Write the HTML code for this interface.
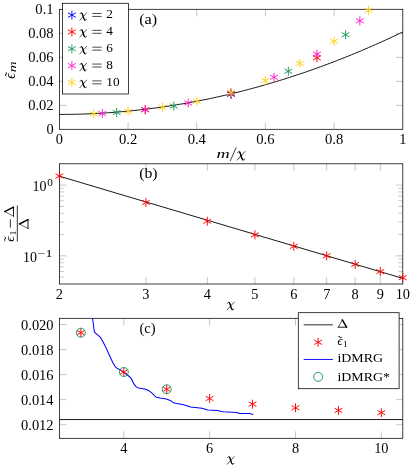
<!DOCTYPE html>
<html><head><meta charset="utf-8"><title>figure</title>
<style>
html,body{margin:0;padding:0;background:#fff;}
svg{display:block;will-change:transform;font-family:"Liberation Serif",serif;fill:#000;}
</style></head><body>
<svg width="415" height="470" viewBox="0 0 415 470">
<rect width="415" height="470" fill="#fff"/>
<line x1="128.08" y1="129.30" x2="128.08" y2="122.30" stroke="#808080" stroke-width="0.45" />
<line x1="128.08" y1="9.30" x2="128.08" y2="16.30" stroke="#808080" stroke-width="0.45" />
<line x1="196.76" y1="129.30" x2="196.76" y2="122.30" stroke="#808080" stroke-width="0.45" />
<line x1="196.76" y1="9.30" x2="196.76" y2="16.30" stroke="#808080" stroke-width="0.45" />
<line x1="265.44" y1="129.30" x2="265.44" y2="122.30" stroke="#808080" stroke-width="0.45" />
<line x1="265.44" y1="9.30" x2="265.44" y2="16.30" stroke="#808080" stroke-width="0.45" />
<line x1="334.12" y1="129.30" x2="334.12" y2="122.30" stroke="#808080" stroke-width="0.45" />
<line x1="334.12" y1="9.30" x2="334.12" y2="16.30" stroke="#808080" stroke-width="0.45" />
<line x1="59.40" y1="105.30" x2="66.40" y2="105.30" stroke="#808080" stroke-width="0.45" />
<line x1="402.80" y1="105.30" x2="395.80" y2="105.30" stroke="#808080" stroke-width="0.45" />
<line x1="59.40" y1="81.30" x2="66.40" y2="81.30" stroke="#808080" stroke-width="0.45" />
<line x1="402.80" y1="81.30" x2="395.80" y2="81.30" stroke="#808080" stroke-width="0.45" />
<line x1="59.40" y1="57.30" x2="66.40" y2="57.30" stroke="#808080" stroke-width="0.45" />
<line x1="402.80" y1="57.30" x2="395.80" y2="57.30" stroke="#808080" stroke-width="0.45" />
<line x1="59.40" y1="33.30" x2="66.40" y2="33.30" stroke="#808080" stroke-width="0.45" />
<line x1="402.80" y1="33.30" x2="395.80" y2="33.30" stroke="#808080" stroke-width="0.45" />
<polyline points="59.40,114.42 62.83,114.41 66.27,114.39 69.70,114.35 73.14,114.29 76.57,114.21 80.00,114.12 83.44,114.02 86.87,113.89 90.31,113.75 93.74,113.60 97.17,113.42 100.61,113.23 104.04,113.03 107.48,112.80 110.91,112.57 114.34,112.31 117.78,112.04 121.21,111.75 124.65,111.44 128.08,111.12 131.51,110.78 134.95,110.43 138.38,110.06 141.82,109.67 145.25,109.27 148.68,108.85 152.12,108.41 155.55,107.96 158.99,107.49 162.42,107.00 165.85,106.50 169.29,105.98 172.72,105.44 176.16,104.89 179.59,104.32 183.02,103.74 186.46,103.13 189.89,102.52 193.33,101.88 196.76,101.23 200.19,100.56 203.63,99.88 207.06,99.18 210.50,98.46 213.93,97.73 217.36,96.98 220.80,96.21 224.23,95.43 227.67,94.63 231.10,93.81 234.53,92.98 237.97,92.13 241.40,91.26 244.84,90.38 248.27,89.48 251.70,88.57 255.14,87.64 258.57,86.69 262.01,85.72 265.44,84.74 268.87,83.74 272.31,82.73 275.74,81.70 279.18,80.65 282.61,79.59 286.04,78.51 289.48,77.41 292.91,76.30 296.35,75.17 299.78,74.02 303.21,72.86 306.65,71.68 310.08,70.49 313.52,69.28 316.95,68.05 320.38,66.80 323.82,65.54 327.25,64.26 330.69,62.97 334.12,61.66 337.55,60.33 340.99,58.99 344.42,57.63 347.86,56.25 351.29,54.86 354.72,53.45 358.16,52.02 361.59,50.58 365.03,49.12 368.46,47.64 371.89,46.15 375.33,44.64 378.76,43.12 382.20,41.58 385.63,40.02 389.06,38.44 392.50,36.85 395.93,35.24 399.37,33.62 402.80,31.98" fill="none" stroke="#000" stroke-width="0.9"/>
<rect x="59.4" y="9.3" width="343.40" height="120.00" fill="none" stroke="#000" stroke-width="0.75"/>
<path d="M231.10 98.80L231.10 89.80M227.20 96.55L235.00 92.05M227.20 92.05L235.00 96.55" stroke="#0000ff" stroke-width="0.95" fill="none"/>
<path d="M145.25 114.20L145.25 105.20M141.35 111.95L149.15 107.45M141.35 107.45L149.15 111.95" stroke="#ff0000" stroke-width="0.95" fill="none"/>
<path d="M231.10 98.30L231.10 89.30M227.20 96.05L235.00 91.55M227.20 91.55L235.00 96.05" stroke="#ff0000" stroke-width="0.95" fill="none"/>
<path d="M316.95 62.30L316.95 53.30M313.05 60.05L320.85 55.55M313.05 55.55L320.85 60.05" stroke="#ff0000" stroke-width="0.95" fill="none"/>
<path d="M116.63 117.00L116.63 108.00M112.74 114.75L120.53 110.25M112.74 110.25L120.53 114.75" stroke="#1a9a5a" stroke-width="0.95" fill="none"/>
<path d="M173.87 110.60L173.87 101.60M169.97 108.35L177.76 103.85M169.97 103.85L177.76 108.35" stroke="#1a9a5a" stroke-width="0.95" fill="none"/>
<path d="M231.10 97.80L231.10 88.80M227.20 95.55L235.00 91.05M227.20 91.05L235.00 95.55" stroke="#1a9a5a" stroke-width="0.95" fill="none"/>
<path d="M288.33 75.70L288.33 66.70M284.44 73.45L292.23 68.95M284.44 68.95L292.23 73.45" stroke="#1a9a5a" stroke-width="0.95" fill="none"/>
<path d="M345.57 39.20L345.57 30.20M341.67 36.95L349.46 32.45M341.67 32.45L349.46 36.95" stroke="#1a9a5a" stroke-width="0.95" fill="none"/>
<path d="M102.33 118.00L102.33 109.00M98.43 115.75L106.22 111.25M98.43 111.25L106.22 115.75" stroke="#ff1ac8" stroke-width="0.95" fill="none"/>
<path d="M145.25 114.20L145.25 105.20M141.35 111.95L149.15 107.45M141.35 107.45L149.15 111.95" stroke="#ff1ac8" stroke-width="0.95" fill="none"/>
<path d="M188.18 107.50L188.18 98.50M184.28 105.25L192.07 100.75M184.28 100.75L192.07 105.25" stroke="#ff1ac8" stroke-width="0.95" fill="none"/>
<path d="M231.10 97.50L231.10 88.50M227.20 95.25L235.00 90.75M227.20 90.75L235.00 95.25" stroke="#ff1ac8" stroke-width="0.95" fill="none"/>
<path d="M274.03 81.80L274.03 72.80M270.13 79.55L277.92 75.05M270.13 75.05L277.92 79.55" stroke="#ff1ac8" stroke-width="0.95" fill="none"/>
<path d="M316.95 58.60L316.95 49.60M313.05 56.35L320.85 51.85M313.05 51.85L320.85 56.35" stroke="#ff1ac8" stroke-width="0.95" fill="none"/>
<path d="M359.88 25.30L359.88 16.30M355.98 23.05L363.77 18.55M355.98 18.55L363.77 23.05" stroke="#ff1ac8" stroke-width="0.95" fill="none"/>
<path d="M93.74 118.40L93.74 109.40M89.84 116.15L97.64 111.65M89.84 111.65L97.64 116.15" stroke="#ffcf14" stroke-width="0.95" fill="none"/>
<path d="M128.08 115.80L128.08 106.80M124.18 113.55L131.98 109.05M124.18 109.05L131.98 113.55" stroke="#ffcf14" stroke-width="0.95" fill="none"/>
<path d="M162.42 111.80L162.42 102.80M158.52 109.55L166.32 105.05M158.52 105.05L166.32 109.55" stroke="#ffcf14" stroke-width="0.95" fill="none"/>
<path d="M196.76 105.80L196.76 96.80M192.86 103.55L200.66 99.05M192.86 99.05L200.66 103.55" stroke="#ffcf14" stroke-width="0.95" fill="none"/>
<path d="M231.10 97.15L231.10 88.15M227.20 94.90L235.00 90.40M227.20 90.40L235.00 94.90" stroke="#ffcf14" stroke-width="0.95" fill="none"/>
<path d="M265.44 85.10L265.44 76.10M261.54 82.85L269.34 78.35M261.54 78.35L269.34 82.85" stroke="#ffcf14" stroke-width="0.95" fill="none"/>
<path d="M299.78 67.90L299.78 58.90M295.88 65.65L303.68 61.15M295.88 61.15L303.68 65.65" stroke="#ffcf14" stroke-width="0.95" fill="none"/>
<path d="M334.12 45.80L334.12 36.80M330.22 43.55L338.02 39.05M330.22 39.05L338.02 43.55" stroke="#ffcf14" stroke-width="0.95" fill="none"/>
<path d="M368.46 14.90L368.46 5.90M364.56 12.65L372.36 8.15M364.56 8.15L372.36 12.65" stroke="#ffcf14" stroke-width="0.95" fill="none"/>
<text transform="translate(59.40,143.90) scale(1.029,1)" font-size="13.9" text-anchor="middle" >0</text>
<text transform="translate(128.08,143.90) scale(1.052,1)" font-size="13.9" text-anchor="middle" >0.2</text>
<text transform="translate(196.76,143.90) scale(1.052,1)" font-size="13.9" text-anchor="middle" >0.4</text>
<text transform="translate(265.44,143.90) scale(1.052,1)" font-size="13.9" text-anchor="middle" >0.6</text>
<text transform="translate(334.12,143.90) scale(1.052,1)" font-size="13.9" text-anchor="middle" >0.8</text>
<text transform="translate(402.80,143.90) scale(1.029,1)" font-size="13.9" text-anchor="middle" >1</text>
<text transform="translate(53.60,134.40) scale(1.029,1)" font-size="13.9" text-anchor="end" >0</text>
<text transform="translate(53.60,110.40) scale(1.045,1)" font-size="13.9" text-anchor="end" >0.02</text>
<text transform="translate(53.60,86.40) scale(1.045,1)" font-size="13.9" text-anchor="end" >0.04</text>
<text transform="translate(53.60,62.40) scale(1.045,1)" font-size="13.9" text-anchor="end" >0.06</text>
<text transform="translate(53.60,38.40) scale(1.045,1)" font-size="13.9" text-anchor="end" >0.08</text>
<text transform="translate(53.60,14.40) scale(1.052,1)" font-size="13.9" text-anchor="end" >0.1</text>
<rect x="62.6" y="3.3" width="65.9" height="90.7" fill="#fff" stroke="#000" stroke-width="0.75"/>
<path d="M71.90 19.60L71.90 10.60M68.00 17.35L75.80 12.85M68.00 12.85L75.80 17.35" stroke="#0000ff" stroke-width="0.95" fill="none"/>
<path d="M86.64 12.75 L79.80 20.29" fill="none" stroke="#000" stroke-width="0.67" stroke-linecap="round"/>
<path d="M80.07 13.73 C80.35 12.97 81.17 12.60 81.85 13.12 C82.53 13.73 82.74 15.24 83.22 16.67 C83.70 18.18 84.18 19.69 85.00 20.18 C85.68 20.52 86.30 20.07 86.50 19.39" fill="none" stroke="#000" stroke-width="0.71" stroke-linecap="round"/>
<path d="M81.92 13.20 C82.53 13.80 82.74 15.24 83.22 16.67 C83.63 18.03 84.04 19.39 84.72 19.99" fill="none" stroke="#000" stroke-width="1.23" stroke-linecap="round"/>
<line x1="92.30" y1="13.50" x2="101.60" y2="13.50" stroke="#000" stroke-width="0.7" />
<line x1="92.30" y1="16.45" x2="101.60" y2="16.45" stroke="#000" stroke-width="0.7" />
<text transform="translate(106.30,18.30) scale(1.039,1)" font-size="12.8" text-anchor="start" >2</text>
<path d="M71.90 36.45L71.90 27.45M68.00 34.20L75.80 29.70M68.00 29.70L75.80 34.20" stroke="#ff0000" stroke-width="0.95" fill="none"/>
<path d="M86.64 29.60 L79.80 37.14" fill="none" stroke="#000" stroke-width="0.67" stroke-linecap="round"/>
<path d="M80.07 30.58 C80.35 29.82 81.17 29.45 81.85 29.97 C82.53 30.58 82.74 32.09 83.22 33.52 C83.70 35.03 84.18 36.54 85.00 37.03 C85.68 37.37 86.30 36.92 86.50 36.24" fill="none" stroke="#000" stroke-width="0.71" stroke-linecap="round"/>
<path d="M81.92 30.05 C82.53 30.65 82.74 32.09 83.22 33.52 C83.63 34.88 84.04 36.24 84.72 36.84" fill="none" stroke="#000" stroke-width="1.23" stroke-linecap="round"/>
<line x1="92.30" y1="30.35" x2="101.60" y2="30.35" stroke="#000" stroke-width="0.7" />
<line x1="92.30" y1="33.30" x2="101.60" y2="33.30" stroke="#000" stroke-width="0.7" />
<text transform="translate(106.30,35.15) scale(1.039,1)" font-size="12.8" text-anchor="start" >4</text>
<path d="M71.90 53.30L71.90 44.30M68.00 51.05L75.80 46.55M68.00 46.55L75.80 51.05" stroke="#1a9a5a" stroke-width="0.95" fill="none"/>
<path d="M86.64 46.45 L79.80 53.99" fill="none" stroke="#000" stroke-width="0.67" stroke-linecap="round"/>
<path d="M80.07 47.43 C80.35 46.67 81.17 46.30 81.85 46.82 C82.53 47.43 82.74 48.94 83.22 50.37 C83.70 51.88 84.18 53.39 85.00 53.88 C85.68 54.22 86.30 53.77 86.50 53.09" fill="none" stroke="#000" stroke-width="0.71" stroke-linecap="round"/>
<path d="M81.92 46.90 C82.53 47.50 82.74 48.94 83.22 50.37 C83.63 51.73 84.04 53.09 84.72 53.69" fill="none" stroke="#000" stroke-width="1.23" stroke-linecap="round"/>
<line x1="92.30" y1="47.20" x2="101.60" y2="47.20" stroke="#000" stroke-width="0.7" />
<line x1="92.30" y1="50.15" x2="101.60" y2="50.15" stroke="#000" stroke-width="0.7" />
<text transform="translate(106.30,52.00) scale(1.039,1)" font-size="12.8" text-anchor="start" >6</text>
<path d="M71.90 70.15L71.90 61.15M68.00 67.90L75.80 63.40M68.00 63.40L75.80 67.90" stroke="#ff1ac8" stroke-width="0.95" fill="none"/>
<path d="M86.64 63.30 L79.80 70.84" fill="none" stroke="#000" stroke-width="0.67" stroke-linecap="round"/>
<path d="M80.07 64.28 C80.35 63.52 81.17 63.15 81.85 63.67 C82.53 64.28 82.74 65.79 83.22 67.22 C83.70 68.73 84.18 70.24 85.00 70.73 C85.68 71.07 86.30 70.62 86.50 69.94" fill="none" stroke="#000" stroke-width="0.71" stroke-linecap="round"/>
<path d="M81.92 63.75 C82.53 64.35 82.74 65.79 83.22 67.22 C83.63 68.58 84.04 69.94 84.72 70.54" fill="none" stroke="#000" stroke-width="1.23" stroke-linecap="round"/>
<line x1="92.30" y1="64.05" x2="101.60" y2="64.05" stroke="#000" stroke-width="0.7" />
<line x1="92.30" y1="67.00" x2="101.60" y2="67.00" stroke="#000" stroke-width="0.7" />
<text transform="translate(106.30,68.85) scale(1.039,1)" font-size="12.8" text-anchor="start" >8</text>
<path d="M71.90 87.00L71.90 78.00M68.00 84.75L75.80 80.25M68.00 80.25L75.80 84.75" stroke="#ffcf14" stroke-width="0.95" fill="none"/>
<path d="M86.64 80.15 L79.80 87.69" fill="none" stroke="#000" stroke-width="0.67" stroke-linecap="round"/>
<path d="M80.07 81.13 C80.35 80.37 81.17 80.00 81.85 80.52 C82.53 81.13 82.74 82.64 83.22 84.07 C83.70 85.58 84.18 87.09 85.00 87.58 C85.68 87.92 86.30 87.47 86.50 86.79" fill="none" stroke="#000" stroke-width="0.71" stroke-linecap="round"/>
<path d="M81.92 80.60 C82.53 81.20 82.74 82.64 83.22 84.07 C83.63 85.43 84.04 86.79 84.72 87.39" fill="none" stroke="#000" stroke-width="1.23" stroke-linecap="round"/>
<line x1="92.30" y1="80.90" x2="101.60" y2="80.90" stroke="#000" stroke-width="0.7" />
<line x1="92.30" y1="83.85" x2="101.60" y2="83.85" stroke="#000" stroke-width="0.7" />
<text transform="translate(106.30,85.70) scale(1.039,1)" font-size="12.8" text-anchor="start" >10</text>
<text transform="translate(148.20,24.00) scale(1.193,1)" font-size="13.6" text-anchor="middle" >(a)</text>
<text transform="translate(216.40,157.50) scale(1.428,1)" font-size="12.8" text-anchor="start" font-style="italic" >m</text>
<line x1="236.20" y1="147.40" x2="230.20" y2="161.00" stroke="#000" stroke-width="0.75" />
<path d="M244.94 151.54 L237.20 160.08" fill="none" stroke="#000" stroke-width="0.76" stroke-linecap="round"/>
<path d="M237.51 152.65 C237.82 151.80 238.75 151.37 239.52 151.97 C240.30 152.65 240.53 154.36 241.07 155.98 C241.61 157.69 242.15 159.40 243.08 159.95 C243.85 160.34 244.55 159.83 244.78 159.06" fill="none" stroke="#000" stroke-width="0.80" stroke-linecap="round"/>
<path d="M239.60 152.05 C240.30 152.74 240.53 154.36 241.07 155.98 C241.53 157.52 242.00 159.06 242.77 159.74" fill="none" stroke="#000" stroke-width="1.39" stroke-linecap="round"/>
<g transform="translate(14.9,70.3) rotate(-90)">
<text transform="translate(-8.40,0.00) scale(1.022,1)" font-size="13.6" text-anchor="start" font-style="italic" >ϵ</text>
<text transform="translate(-6.30,0.10) scale(1.001,1)" font-size="13.8" text-anchor="start" >˜</text>
<text transform="translate(-2.00,1.30) scale(1.372,1)" font-size="11.0" text-anchor="start" font-style="italic" >m</text>
</g>
<line x1="145.91" y1="284.00" x2="145.91" y2="277.00" stroke="#808080" stroke-width="0.45" />
<line x1="145.91" y1="163.80" x2="145.91" y2="170.80" stroke="#808080" stroke-width="0.45" />
<line x1="207.29" y1="284.00" x2="207.29" y2="277.00" stroke="#808080" stroke-width="0.45" />
<line x1="207.29" y1="163.80" x2="207.29" y2="170.80" stroke="#808080" stroke-width="0.45" />
<line x1="254.91" y1="284.00" x2="254.91" y2="277.00" stroke="#808080" stroke-width="0.45" />
<line x1="254.91" y1="163.80" x2="254.91" y2="170.80" stroke="#808080" stroke-width="0.45" />
<line x1="293.81" y1="284.00" x2="293.81" y2="277.00" stroke="#808080" stroke-width="0.45" />
<line x1="293.81" y1="163.80" x2="293.81" y2="170.80" stroke="#808080" stroke-width="0.45" />
<line x1="326.70" y1="284.00" x2="326.70" y2="277.00" stroke="#808080" stroke-width="0.45" />
<line x1="326.70" y1="163.80" x2="326.70" y2="170.80" stroke="#808080" stroke-width="0.45" />
<line x1="355.19" y1="284.00" x2="355.19" y2="277.00" stroke="#808080" stroke-width="0.45" />
<line x1="355.19" y1="163.80" x2="355.19" y2="170.80" stroke="#808080" stroke-width="0.45" />
<line x1="380.32" y1="284.00" x2="380.32" y2="277.00" stroke="#808080" stroke-width="0.45" />
<line x1="380.32" y1="163.80" x2="380.32" y2="170.80" stroke="#808080" stroke-width="0.45" />
<line x1="59.40" y1="185.10" x2="66.40" y2="185.10" stroke="#808080" stroke-width="0.45" />
<line x1="402.80" y1="185.10" x2="395.80" y2="185.10" stroke="#808080" stroke-width="0.45" />
<line x1="59.40" y1="255.85" x2="66.40" y2="255.85" stroke="#808080" stroke-width="0.45" />
<line x1="402.80" y1="255.85" x2="395.80" y2="255.85" stroke="#808080" stroke-width="0.45" />
<line x1="59.40" y1="188.33" x2="63.80" y2="188.33" stroke="#808080" stroke-width="0.45" />
<line x1="402.80" y1="188.33" x2="398.40" y2="188.33" stroke="#808080" stroke-width="0.45" />
<line x1="59.40" y1="191.95" x2="63.80" y2="191.95" stroke="#808080" stroke-width="0.45" />
<line x1="402.80" y1="191.95" x2="398.40" y2="191.95" stroke="#808080" stroke-width="0.45" />
<line x1="59.40" y1="196.06" x2="63.80" y2="196.06" stroke="#808080" stroke-width="0.45" />
<line x1="402.80" y1="196.06" x2="398.40" y2="196.06" stroke="#808080" stroke-width="0.45" />
<line x1="59.40" y1="200.79" x2="63.80" y2="200.79" stroke="#808080" stroke-width="0.45" />
<line x1="402.80" y1="200.79" x2="398.40" y2="200.79" stroke="#808080" stroke-width="0.45" />
<line x1="59.40" y1="206.39" x2="63.80" y2="206.39" stroke="#808080" stroke-width="0.45" />
<line x1="402.80" y1="206.39" x2="398.40" y2="206.39" stroke="#808080" stroke-width="0.45" />
<line x1="59.40" y1="213.25" x2="63.80" y2="213.25" stroke="#808080" stroke-width="0.45" />
<line x1="402.80" y1="213.25" x2="398.40" y2="213.25" stroke="#808080" stroke-width="0.45" />
<line x1="59.40" y1="222.09" x2="63.80" y2="222.09" stroke="#808080" stroke-width="0.45" />
<line x1="402.80" y1="222.09" x2="398.40" y2="222.09" stroke="#808080" stroke-width="0.45" />
<line x1="59.40" y1="234.55" x2="63.80" y2="234.55" stroke="#808080" stroke-width="0.45" />
<line x1="402.80" y1="234.55" x2="398.40" y2="234.55" stroke="#808080" stroke-width="0.45" />
<line x1="59.40" y1="259.08" x2="63.80" y2="259.08" stroke="#808080" stroke-width="0.45" />
<line x1="402.80" y1="259.08" x2="398.40" y2="259.08" stroke="#808080" stroke-width="0.45" />
<line x1="59.40" y1="262.70" x2="63.80" y2="262.70" stroke="#808080" stroke-width="0.45" />
<line x1="402.80" y1="262.70" x2="398.40" y2="262.70" stroke="#808080" stroke-width="0.45" />
<line x1="59.40" y1="266.81" x2="63.80" y2="266.81" stroke="#808080" stroke-width="0.45" />
<line x1="402.80" y1="266.81" x2="398.40" y2="266.81" stroke="#808080" stroke-width="0.45" />
<line x1="59.40" y1="271.54" x2="63.80" y2="271.54" stroke="#808080" stroke-width="0.45" />
<line x1="402.80" y1="271.54" x2="398.40" y2="271.54" stroke="#808080" stroke-width="0.45" />
<line x1="59.40" y1="277.14" x2="63.80" y2="277.14" stroke="#808080" stroke-width="0.45" />
<line x1="402.80" y1="277.14" x2="398.40" y2="277.14" stroke="#808080" stroke-width="0.45" />
<line x1="59.40" y1="176.20" x2="402.80" y2="278.40" stroke="#000" stroke-width="0.9" />
<rect x="59.4" y="163.8" width="343.40" height="120.20" fill="none" stroke="#000" stroke-width="0.75"/>
<path d="M59.40 180.50L59.40 171.50M55.50 178.25L63.30 173.75M55.50 173.75L63.30 178.25" stroke="#ff0000" stroke-width="0.95" fill="none"/>
<path d="M145.91 206.90L145.91 197.90M142.02 204.65L149.81 200.15M142.02 200.15L149.81 204.65" stroke="#ff0000" stroke-width="0.95" fill="none"/>
<path d="M207.29 225.70L207.29 216.70M203.40 223.45L211.19 218.95M203.40 218.95L211.19 223.45" stroke="#ff0000" stroke-width="0.95" fill="none"/>
<path d="M254.91 239.40L254.91 230.40M251.01 237.15L258.80 232.65M251.01 232.65L258.80 237.15" stroke="#ff0000" stroke-width="0.95" fill="none"/>
<path d="M293.81 250.90L293.81 241.90M289.91 248.65L297.70 244.15M289.91 244.15L297.70 248.65" stroke="#ff0000" stroke-width="0.95" fill="none"/>
<path d="M326.70 260.30L326.70 251.30M322.80 258.05L330.59 253.55M322.80 253.55L330.59 258.05" stroke="#ff0000" stroke-width="0.95" fill="none"/>
<path d="M355.19 268.90L355.19 259.90M351.29 266.65L359.09 262.15M351.29 262.15L359.09 266.65" stroke="#ff0000" stroke-width="0.95" fill="none"/>
<path d="M380.32 276.10L380.32 267.10M376.42 273.85L384.22 269.35M376.42 269.35L384.22 273.85" stroke="#ff0000" stroke-width="0.95" fill="none"/>
<path d="M402.80 282.20L402.80 273.20M398.90 279.95L406.70 275.45M398.90 275.45L406.70 279.95" stroke="#ff0000" stroke-width="0.95" fill="none"/>
<text transform="translate(59.40,298.50) scale(1.029,1)" font-size="13.9" text-anchor="middle" >2</text>
<text transform="translate(145.91,298.50) scale(1.029,1)" font-size="13.9" text-anchor="middle" >3</text>
<text transform="translate(207.29,298.50) scale(1.029,1)" font-size="13.9" text-anchor="middle" >4</text>
<text transform="translate(254.91,298.50) scale(1.029,1)" font-size="13.9" text-anchor="middle" >5</text>
<text transform="translate(293.81,298.50) scale(1.029,1)" font-size="13.9" text-anchor="middle" >6</text>
<text transform="translate(326.70,298.50) scale(1.029,1)" font-size="13.9" text-anchor="middle" >7</text>
<text transform="translate(355.19,298.50) scale(1.029,1)" font-size="13.9" text-anchor="middle" >8</text>
<text transform="translate(380.32,298.50) scale(1.029,1)" font-size="13.9" text-anchor="middle" >9</text>
<text transform="translate(402.80,298.50) scale(1.029,1)" font-size="13.9" text-anchor="middle" >10</text>
<text transform="translate(46.60,190.50) scale(1.007,1)" font-size="13.9" text-anchor="end" >10</text>
<text transform="translate(47.20,186.20) scale(1.120,1)" font-size="10.0" text-anchor="start" >0</text>
<text transform="translate(37.00,262.00) scale(1.007,1)" font-size="13.9" text-anchor="end" >10</text>
<text transform="translate(37.60,257.20) scale(1.410,1)" font-size="10.0" text-anchor="start" >−1</text>
<text transform="translate(148.40,178.10) scale(1.160,1)" font-size="13.6" text-anchor="middle" >(b)</text>
<path d="M234.09 302.21 L227.20 309.81" fill="none" stroke="#000" stroke-width="0.68" stroke-linecap="round"/>
<path d="M227.48 303.19 C227.75 302.43 228.58 302.05 229.27 302.59 C229.96 303.19 230.16 304.71 230.64 306.16 C231.13 307.68 231.61 309.20 232.44 309.70 C233.13 310.04 233.75 309.58 233.95 308.90" fill="none" stroke="#000" stroke-width="0.71" stroke-linecap="round"/>
<path d="M229.34 302.66 C229.96 303.27 230.16 304.71 230.64 306.16 C231.06 307.53 231.47 308.90 232.16 309.51" fill="none" stroke="#000" stroke-width="1.24" stroke-linecap="round"/>
<line x1="17.30" y1="205.50" x2="17.30" y2="241.60" stroke="#000" stroke-width="0.8" />
<line x1="10.40" y1="219.30" x2="10.40" y2="227.70" stroke="#000" stroke-width="0.8" />
<path d="M4.7 211.6 L13.5 216.2" stroke="#000" stroke-width="0.6" fill="none" stroke-linecap="round"/>
<path d="M13.5 207.2 L13.5 216.2" stroke="#000" stroke-width="0.9" fill="none" stroke-linecap="square"/>
<path d="M4.7 211.6 L13.5 207.2" stroke="#000" stroke-width="1.45" fill="none" stroke-linecap="round"/>
<path d="M19.4 224.0 L28.0 228.5" stroke="#000" stroke-width="0.6" fill="none" stroke-linecap="round"/>
<path d="M28.0 219.6 L28.0 228.5" stroke="#000" stroke-width="0.9" fill="none" stroke-linecap="square"/>
<path d="M19.4 224.0 L28.0 219.6" stroke="#000" stroke-width="1.45" fill="none" stroke-linecap="round"/>
<g transform="translate(13.8,241.8) rotate(-90)">
<text transform="translate(0.00,0.00) scale(1.103,1)" font-size="12.6" text-anchor="start" font-style="italic" >ϵ</text>
<text transform="translate(0.40,-0.60) scale(1.192,1)" font-size="12.6" text-anchor="start" >˜</text>
<text transform="translate(6.60,2.20) scale(1.070,1)" font-size="8.6" text-anchor="start" >1</text>
</g>
<line x1="123.79" y1="438.30" x2="123.79" y2="431.30" stroke="#808080" stroke-width="0.45" />
<line x1="123.79" y1="318.30" x2="123.79" y2="325.30" stroke="#808080" stroke-width="0.45" />
<line x1="209.64" y1="438.30" x2="209.64" y2="431.30" stroke="#808080" stroke-width="0.45" />
<line x1="209.64" y1="318.30" x2="209.64" y2="325.30" stroke="#808080" stroke-width="0.45" />
<line x1="295.49" y1="438.30" x2="295.49" y2="431.30" stroke="#808080" stroke-width="0.45" />
<line x1="295.49" y1="318.30" x2="295.49" y2="325.30" stroke="#808080" stroke-width="0.45" />
<line x1="381.34" y1="438.30" x2="381.34" y2="431.30" stroke="#808080" stroke-width="0.45" />
<line x1="381.34" y1="318.30" x2="381.34" y2="325.30" stroke="#808080" stroke-width="0.45" />
<line x1="59.40" y1="424.70" x2="66.40" y2="424.70" stroke="#808080" stroke-width="0.45" />
<line x1="402.80" y1="424.70" x2="395.80" y2="424.70" stroke="#808080" stroke-width="0.45" />
<line x1="59.40" y1="399.65" x2="66.40" y2="399.65" stroke="#808080" stroke-width="0.45" />
<line x1="402.80" y1="399.65" x2="395.80" y2="399.65" stroke="#808080" stroke-width="0.45" />
<line x1="59.40" y1="374.60" x2="66.40" y2="374.60" stroke="#808080" stroke-width="0.45" />
<line x1="402.80" y1="374.60" x2="395.80" y2="374.60" stroke="#808080" stroke-width="0.45" />
<line x1="59.40" y1="349.55" x2="66.40" y2="349.55" stroke="#808080" stroke-width="0.45" />
<line x1="402.80" y1="349.55" x2="395.80" y2="349.55" stroke="#808080" stroke-width="0.45" />
<line x1="59.40" y1="324.50" x2="66.40" y2="324.50" stroke="#808080" stroke-width="0.45" />
<line x1="402.80" y1="324.50" x2="395.80" y2="324.50" stroke="#808080" stroke-width="0.45" />
<line x1="59.40" y1="419.55" x2="402.80" y2="419.55" stroke="#000" stroke-width="0.9" />
<polyline points="92.6,318.3 94.4,332.2 100.4,337.3 105.5,346.6 109.3,355.0 113.0,363.0 115.2,366.6 116.8,368.1 120.5,370.0 123.5,372.1 128.1,375.5 131.0,378.1 133.9,383.9 136.0,386.6 138.3,388.0 144.8,389.0 148.4,390.4 152.0,393.2 155.8,397.0 159.9,397.9 166.4,398.9 170.2,400.4 174.1,403.1 183.7,404.7 190.5,407.0 202.0,408.2 207.8,410.1 217.4,410.5 223.0,411.7 236.7,412.5 239.6,413.5 249.7,413.6 253.3,414.5" fill="none" stroke="#0000ff" stroke-width="1.05" stroke-linejoin="round"/>
<rect x="59.4" y="318.3" width="343.40" height="120.00" fill="none" stroke="#000" stroke-width="0.75"/>
<path d="M80.86 337.20L80.86 328.20M76.97 334.95L84.76 330.45M76.97 330.45L84.76 334.95" stroke="#ff0000" stroke-width="0.95" fill="none"/>
<path d="M123.79 376.50L123.79 367.50M119.89 374.25L127.68 369.75M119.89 369.75L127.68 374.25" stroke="#ff0000" stroke-width="0.95" fill="none"/>
<path d="M166.71 393.80L166.71 384.80M162.82 391.55L170.61 387.05M162.82 387.05L170.61 391.55" stroke="#ff0000" stroke-width="0.95" fill="none"/>
<path d="M209.64 403.00L209.64 394.00M205.74 400.75L213.53 396.25M205.74 396.25L213.53 400.75" stroke="#ff0000" stroke-width="0.95" fill="none"/>
<path d="M252.56 408.70L252.56 399.70M248.67 406.45L256.46 401.95M248.67 401.95L256.46 406.45" stroke="#ff0000" stroke-width="0.95" fill="none"/>
<path d="M295.49 412.30L295.49 403.30M291.59 410.05L299.38 405.55M291.59 405.55L299.38 410.05" stroke="#ff0000" stroke-width="0.95" fill="none"/>
<path d="M338.41 414.90L338.41 405.90M334.52 412.65L342.31 408.15M334.52 408.15L342.31 412.65" stroke="#ff0000" stroke-width="0.95" fill="none"/>
<path d="M381.34 417.20L381.34 408.20M377.44 414.95L385.23 410.45M377.44 410.45L385.23 414.95" stroke="#ff0000" stroke-width="0.95" fill="none"/>
<circle cx="80.86" cy="332.70" r="4.5" stroke="#1a9a5a" stroke-width="0.95" fill="none"/>
<circle cx="123.79" cy="372.00" r="4.5" stroke="#1a9a5a" stroke-width="0.95" fill="none"/>
<circle cx="166.71" cy="389.30" r="4.5" stroke="#1a9a5a" stroke-width="0.95" fill="none"/>
<text transform="translate(123.79,453.00) scale(1.029,1)" font-size="13.9" text-anchor="middle" >4</text>
<text transform="translate(209.64,453.00) scale(1.029,1)" font-size="13.9" text-anchor="middle" >6</text>
<text transform="translate(295.49,453.00) scale(1.029,1)" font-size="13.9" text-anchor="middle" >8</text>
<text transform="translate(381.34,453.00) scale(1.029,1)" font-size="13.9" text-anchor="middle" >10</text>
<text transform="translate(53.60,429.80) scale(1.042,1)" font-size="13.9" text-anchor="end" >0.012</text>
<text transform="translate(53.60,404.75) scale(1.042,1)" font-size="13.9" text-anchor="end" >0.014</text>
<text transform="translate(53.60,379.70) scale(1.042,1)" font-size="13.9" text-anchor="end" >0.016</text>
<text transform="translate(53.60,354.65) scale(1.042,1)" font-size="13.9" text-anchor="end" >0.018</text>
<text transform="translate(53.60,329.60) scale(1.042,1)" font-size="13.9" text-anchor="end" >0.020</text>
<text transform="translate(147.60,332.80) scale(1.073,1)" font-size="13.6" text-anchor="middle" >(c)</text>
<path d="M234.19 456.61 L227.30 464.21" fill="none" stroke="#000" stroke-width="0.68" stroke-linecap="round"/>
<path d="M227.58 457.59 C227.85 456.83 228.68 456.45 229.37 456.99 C230.06 457.59 230.26 459.11 230.75 460.56 C231.23 462.08 231.71 463.60 232.54 464.10 C233.23 464.44 233.85 463.98 234.05 463.30" fill="none" stroke="#000" stroke-width="0.71" stroke-linecap="round"/>
<path d="M229.44 457.06 C230.06 457.67 230.26 459.11 230.75 460.56 C231.16 461.93 231.57 463.30 232.26 463.91" fill="none" stroke="#000" stroke-width="1.24" stroke-linecap="round"/>
<rect x="298.3" y="312.7" width="100.8" height="76.0" fill="#fff" stroke="#000" stroke-width="0.75"/>
<line x1="303.70" y1="324.85" x2="332.90" y2="324.85" stroke="#000" stroke-width="0.85" />
<path d="M342.3 319.9 L338.3 327.2" stroke="#000" stroke-width="0.6" fill="none" stroke-linecap="round"/>
<path d="M346.6 327.2 L338.3 327.2" stroke="#000" stroke-width="0.9" fill="none" stroke-linecap="square"/>
<path d="M342.3 319.9 L346.6 327.2" stroke="#000" stroke-width="1.45" fill="none" stroke-linecap="round"/>
<path d="M318.10 346.80L318.10 337.80M314.20 344.55L322.00 340.05M314.20 340.05L322.00 344.55" stroke="#ff0000" stroke-width="0.95" fill="none"/>
<text transform="translate(337.50,345.20) scale(1.070,1)" font-size="11.6" text-anchor="start" font-style="italic" >ϵ</text>
<text transform="translate(337.70,344.70) scale(1.087,1)" font-size="11.6" text-anchor="start" >˜</text>
<text transform="translate(343.00,346.80) scale(1.045,1)" font-size="8.8" text-anchor="start" >1</text>
<line x1="303.70" y1="359.45" x2="332.90" y2="359.45" stroke="#0000ff" stroke-width="0.95" />
<text transform="translate(337.40,362.20) scale(1.150,1)" font-size="12.1" text-anchor="start" >iDMRG</text>
<circle cx="318.20" cy="376.90" r="4.5" stroke="#1a9a5a" stroke-width="0.95" fill="none"/>
<text transform="translate(337.40,380.80) scale(1.151,1)" font-size="12.1" text-anchor="start" >iDMRG*</text>
</svg>
</body></html>
